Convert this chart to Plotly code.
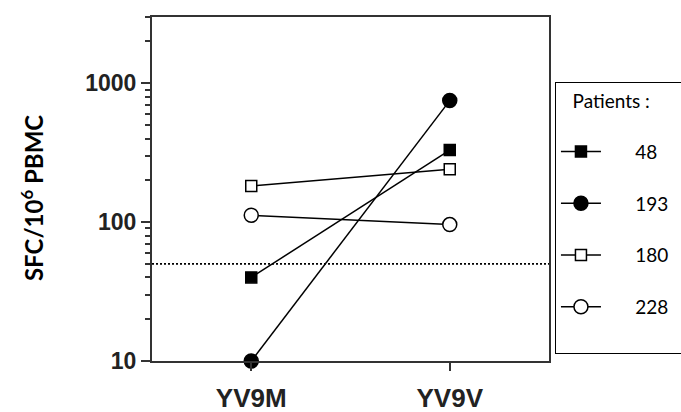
import plotly.graph_objects as go

categories = ["YV9M", "YV9V"]
patients = ["48", "193", "180", "228"]
values_48 = [40, 330]
values_193 = [10, 750]
values_180 = [182, 240]
values_228 = [112, 96]
threshold = 50
ytick_vals = [10, 100, 1000]
ytick_text = ["10", "100", "1000"]
y_title = "SFC/10<sup>6</sup> PBMC"

series = [
    (patients[0], values_48, "square", "black"),
    (patients[1], values_193, "circle", "black"),
    (patients[2], values_180, "square", "white"),
    (patients[3], values_228, "circle", "white"),
]

NB = "\u00a0"
fig = go.Figure()
for i, (name, vals, sym, fill) in enumerate(series):
    fig.add_trace(go.Scatter(
        x=categories, y=vals, mode="lines+markers", name=NB * 6 + name,
        legendgroup="g%d" % i,
        line=dict(color="black", width=1.5),
        marker=dict(symbol=sym, size=14 if sym == "circle" else 11, color=fill,
                    line=dict(color="black", width=1.5)),
        cliponaxis=False,
    ))
# empty spacer entry so the legend box extends below the last patient
fig.add_trace(go.Scatter(
    x=[None], y=[None], mode="markers", name=NB, legendgroup="g3",
    marker=dict(color="rgba(0,0,0,0)", line=dict(width=0)), hoverinfo="skip",
))

fig.add_shape(type="line", xref="x domain", x0=0, x1=1, yref="y", y0=threshold, y1=threshold,
              line=dict(color="black", width=1.8, dash="2px,2px"), layer="below")

fig.add_annotation(
    text=y_title, xref="paper", yref="paper", x=-0.302, y=0.474,
    xanchor="center", yanchor="middle", textangle=-90, showarrow=False,
    font=dict(family="Lato", size=24, color="black", weight="bold"),
)

fig.update_layout(
    width=681, height=412,
    margin=dict(l=152, r=132, t=17, b=51, autoexpand=False),
    plot_bgcolor="white", paper_bgcolor="white",
    showlegend=True,
    legend=dict(
        x=1.015, xanchor="left", y=0.81, yanchor="top",
        bordercolor="black", borderwidth=1, bgcolor="white",
        title=dict(text=NB * 3 + "Patients :" + NB * 12 + "<br>" + NB, font=dict(family="Lato", size=19, color="black")),
        font=dict(family="Lato", size=19, color="black"),
        tracegroupgap=24,
        itemwidth=40,
    ),
    xaxis=dict(
        type="category", range=[-0.5, 1.5], automargin=False,
        showline=True, linecolor="#333", linewidth=2, mirror=True,
        ticks="outside", ticklen=8, tickcolor="#333", tickwidth=2,
        ticklabelstandoff=5,
        tickfont=dict(family="Liberation Sans", size=26, color="#222", weight="bold"),
        showgrid=False, zeroline=False,
    ),
    yaxis=dict(
        type="log", range=[1, 3.477], automargin=False,
        tickvals=ytick_vals, ticktext=ytick_text,
        showline=True, linecolor="#333", linewidth=2, mirror=True,
        ticks="outside", ticklen=9, tickcolor="#333", tickwidth=2,
        minor=dict(ticks="outside", ticklen=5, tickcolor="#333", tickwidth=1.5, dtick="D1", showgrid=False),
        tickfont=dict(family="Liberation Sans", size=23, color="#222", weight="bold"),
        showgrid=False, zeroline=False,
    ),
)

fig.write_html("out.html")
